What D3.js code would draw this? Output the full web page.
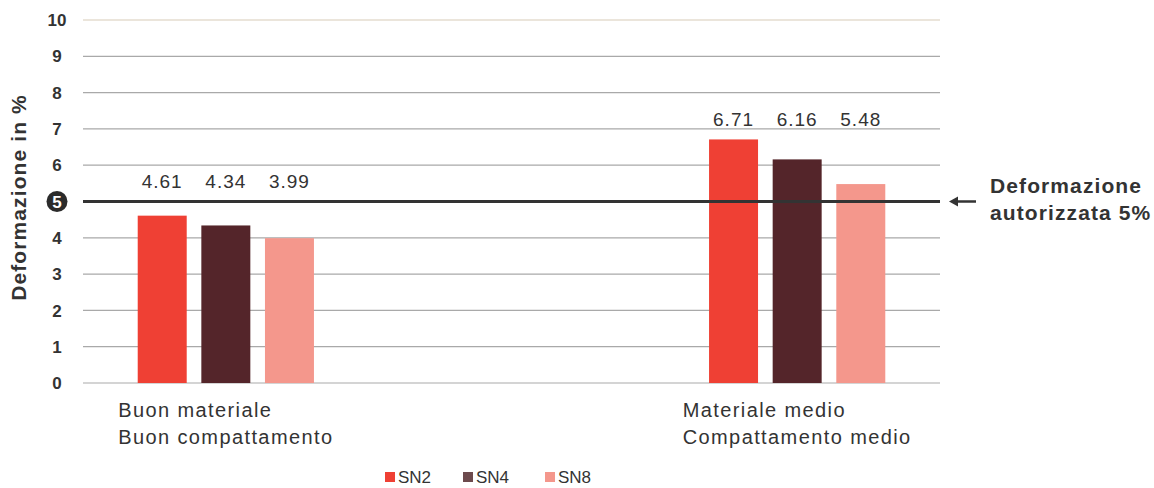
<!DOCTYPE html>
<html>
<head>
<meta charset="utf-8">
<script src="https://cdn.jsdelivr.net/npm/d3@7"></script>
<style>
  body { margin: 0; background: #fff; }
  text { font-family: "Liberation Sans", Arial, sans-serif; fill: #333; }
</style>
</head>
<body>
<div id="chart"></div>
<script>
const width = 1154;
const height = 488;

// data
const categories = ["Buon materiale\nBuon compattamento", "", "Materiale medio\nCompattamento medio"];
const series = ["SN2", "SN4", "SN8"];
const values = {
  SN2: [4.61, null, 6.71],
  SN4: [4.34, null, 6.16],
  SN8: [3.99, null, 5.48]
};
const yTicks = [0, 1, 2, 3, 4, 5, 6, 7, 8, 9, 10];
const limitValue = 5;
const limitLabel = ["Deformazione", "autorizzata 5%"];

const colors = { SN2: "#ef4034", SN4: "#54252a", SN8: "#f4978c" };

const margin = { left: 83, right: 214, top: 20, bottom: 105 };

const svg = d3.select("#chart")
  .append("svg")
  .attr("width", width)
  .attr("height", height);

const y = d3.scaleLinear()
  .domain([0, 10])
  .range([height - margin.bottom, margin.top]);

const x0 = d3.scaleBand()
  .domain(categories)
  .range([margin.left, width - margin.right])
  .padding(0);

const x1 = d3.scaleBand()
  .domain(series)
  .range([0, x0.bandwidth()])
  .paddingInner(0.23)
  .paddingOuter(0.86);

// gridlines
svg.append("g").selectAll("line")
  .data(yTicks)
  .enter().append("line")
  .attr("x1", margin.left)
  .attr("x2", width - margin.right)
  .attr("y1", d => y(d))
  .attr("y2", d => y(d))
  .attr("stroke", d => d === 10 ? "#d8cbb8" : "#a9a9a9")
  .attr("stroke-width", 1.2);

// tick labels
svg.append("g").selectAll("text")
  .data(yTicks.filter(d => d !== limitValue))
  .enter().append("text")
  .attr("x", 57)
  .attr("y", d => y(d))
  .attr("dy", "0.36em")
  .attr("text-anchor", "middle")
  .style("font-size", "17px")
  .style("font-weight", "bold")
  .text(d => d);

svg.append("circle")
  .attr("cx", 57)
  .attr("cy", y(limitValue))
  .attr("r", 10.5)
  .attr("fill", "#2b2b2b");
svg.append("text")
  .attr("x", 57)
  .attr("y", y(limitValue))
  .attr("dy", "0.36em")
  .attr("text-anchor", "middle")
  .style("font-size", "17px")
  .style("font-weight", "bold")
  .style("fill", "#fff")
  .text(limitValue);

// y title
svg.append("text")
  .attr("transform", `translate(26,${y(5) - 4}) rotate(-90)`)
  .attr("text-anchor", "middle")
  .style("font-size", "21px")
  .style("font-weight", "bold")
  .style("letter-spacing", "1.1px")
  .text("Deformazione in %");

// bars
const groups = svg.append("g").selectAll("g")
  .data(categories.map((c, i) => ({ c, i })).filter(d => d.c !== ""))
  .enter().append("g")
  .attr("transform", d => `translate(${x0(d.c)},0)`);

groups.selectAll("rect")
  .data(d => series.map(s => ({ s, v: values[s][d.i] })))
  .enter().append("rect")
  .attr("x", d => x1(d.s))
  .attr("width", x1.bandwidth())
  .attr("y", d => y(d.v))
  .attr("height", d => y(0) - y(d.v))
  .attr("fill", d => colors[d.s]);

// value labels, all at one height per group
groups.each(function(d) {
  const top = Math.max(limitValue, d3.max(series, s => values[s][d.i]));
  d3.select(this).selectAll("text.val")
    .data(series.map(s => ({ s, v: values[s][d.i] })))
    .enter().append("text")
    .attr("class", "val")
    .attr("x", e => x1(e.s) + x1.bandwidth() / 2)
    .attr("y", y(top) - 20)
    .attr("dy", "0.36em")
    .attr("text-anchor", "middle")
    .style("font-size", "19px")
    .style("letter-spacing", "1px")
    .text(e => e.v.toFixed(2));
});

// limit line
svg.append("line")
  .attr("x1", margin.left)
  .attr("x2", width - margin.right)
  .attr("y1", y(limitValue))
  .attr("y2", y(limitValue))
  .attr("stroke", "#333")
  .attr("stroke-width", 3);

// category labels
groups.each(function(d) {
  const lines = d.c.split("\n");
  const g = d3.select(this);
  const t = g.append("text")
    .style("font-size", "20px")
    .style("letter-spacing", "1.4px");
  lines.forEach((l, k) => {
    t.append("tspan")
      .attr("x", 0)
      .attr("y", y(0) + 34 + k * 27)
      .text(l);
  });
  const w = t.node().getBBox().width;
  t.selectAll("tspan").attr("x", x0.bandwidth() / 2 - w / 2);
});

// annotation
const ax = width - margin.right;
svg.append("line")
  .attr("x1", ax + 36)
  .attr("x2", ax + 16)
  .attr("y1", y(limitValue))
  .attr("y2", y(limitValue))
  .attr("stroke", "#333")
  .attr("stroke-width", 2.5);
svg.append("path")
  .attr("d", `M${ax + 9},${y(limitValue)} l9,-5 l0,10 z`)
  .attr("fill", "#333");
svg.append("text")
  .attr("x", ax + 50)
  .style("font-size", "21px")
  .style("font-weight", "bold")
  .style("letter-spacing", "1.1px")
  .selectAll("tspan")
  .data(limitLabel)
  .enter().append("tspan")
  .attr("x", ax + 50)
  .attr("y", (d, k) => y(limitValue) - 9 + k * 27)
  .text(d => d);

// legend
const legend = svg.append("g").attr("transform", "translate(385,477)");
const lx = [0, 78, 160];
series.forEach((s, k) => {
  const g = legend.append("g").attr("transform", `translate(${lx[k]},0)`);
  g.append("rect")
    .attr("x", 0).attr("y", -5)
    .attr("width", 10).attr("height", 10)
    .attr("fill", s === "SN4" ? "#6d4a4d" : colors[s]);
  g.append("text")
    .attr("x", 13)
    .attr("dy", "0.36em")
    .style("font-size", "17px")
    .text(s);
});
</script>
</body>
</html>
